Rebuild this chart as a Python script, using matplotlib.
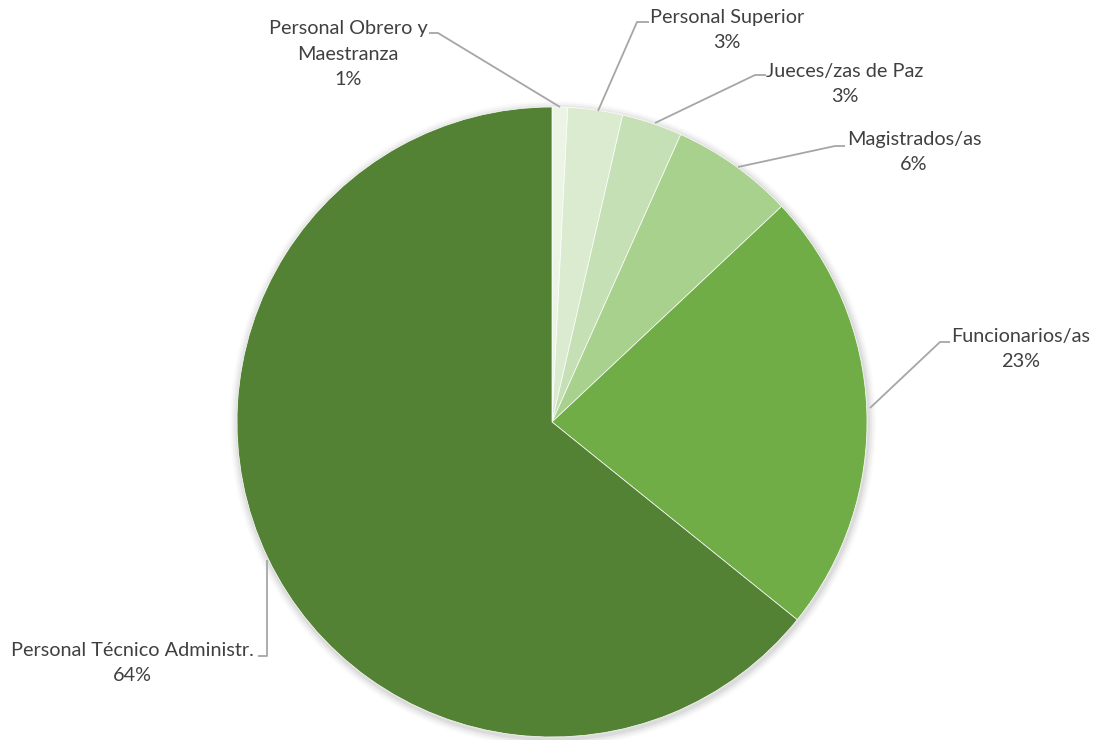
import matplotlib
matplotlib.use("Agg")
import matplotlib.pyplot as plt
from matplotlib.patches import Circle

# data (clockwise from 12 o'clock)
categories = ["Personal Obrero y\nMaestranza", "Personal Superior", "Jueces/zas de Paz",
              "Magistrados/as", "Funcionarios/as", "Personal Técnico Administr."]
values = [0.8, 2.8, 3.1, 6.3, 22.8, 64.2]
pct_labels = ["1%", "3%", "3%", "6%", "23%", "64%"]
colors = ["#EBF4E5", "#DBEBD0", "#C5E0B4", "#A9D18E", "#70AD47", "#548235"]

W, H = 1096, 740
fig = plt.figure(figsize=(W / 100, H / 100), dpi=100)
ax = fig.add_axes([0, 0, 1, 1])
ax.set_xlim(0, W)
ax.set_ylim(0, H)
ax.set_aspect("equal")
ax.axis("off")

cx, cy, r = 552, H - 422, 315

# soft shadow
for i, a in enumerate([0.05, 0.04, 0.03, 0.02]):
    ax.add_patch(Circle((cx + 1, cy - 2), r + 2 + i * 2, color="black", alpha=a, lw=0, zorder=0))

ax.pie(values, colors=colors, startangle=90, counterclock=False, center=(cx, cy), radius=r,
       wedgeprops=dict(edgecolor="white", linewidth=0.5), frame=True)
ax.set_xlim(0, W)
ax.set_ylim(0, H)
ax.axis("off")

# label text centre (px, top-down) and leader line path (px)
label_pos = [(348, 54), (727, 30), (845, 84), (914, 152), (1021, 349), (132, 663)]
leaders = [
    [(429, 33), (438, 33), (560, 107)],
    [(649, 22), (637, 22), (598, 111)],
    [(766, 75), (755, 75), (655, 123)],
    [(845, 146), (835, 146), (738, 167)],
    [(950, 342), (940, 342), (870, 408)],
    [(258, 656), (267, 656), (267, 560)],
]

for name, pct, (tx, ty), path in zip(categories, pct_labels, label_pos, leaders):
    ax.text(tx, H - ty, name + "\n" + pct, ha="center", va="center", fontsize=14.3,
            family="Lato", color="#404040", linespacing=1.6)
    xs = [p[0] for p in path]
    ys = [H - p[1] for p in path]
    ax.plot(xs, ys, color="#A6A6A6", lw=1.3, solid_capstyle="butt")

fig.savefig("out.png", dpi=100)
